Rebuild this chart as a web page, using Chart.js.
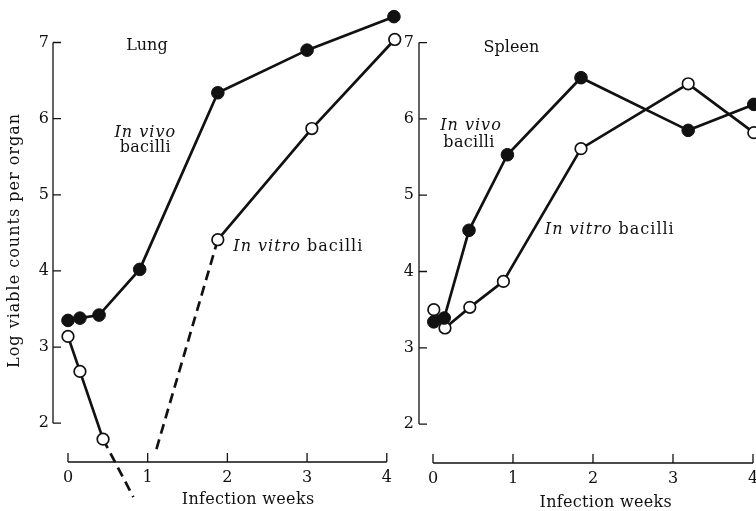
<!DOCTYPE html>
<html>
<head>
<meta charset="utf-8">
<script src="https://cdn.jsdelivr.net/npm/chart.js@4"></script>
<style>
html, body { margin: 0; padding: 0; background: #fff; overflow: hidden; }
body { width: 756px; height: 511px; position: relative; }
canvas { position: absolute; top: 0; }
#lung { left: 0; }
#spleen { left: 380px; }
</style>
</head>
<body>
<canvas id="lung" width="420" height="511"></canvas>
<canvas id="spleen" width="420" height="511"></canvas>
<script>
// values (weeks after infection, log viable counts)
var lungVivoWeeks = [0, 0.15, 0.39, 0.9, 1.88, 3.0, 4.09];
var lungVivoLog = [3.35, 3.38, 3.42, 4.02, 6.34, 6.9, 7.34];
// null marks the break in the dashed extrapolation
var lungVitroWeeks = [0, 0.15, 0.44, 0.82, null, 1.11, 1.88, 3.06, 4.1];
var lungVitroLog = [3.14, 2.68, 1.79, 1.03, null, 1.66, 4.41, 5.87, 7.04];
var spleenVivoWeeks = [0.01, 0.14, 0.45, 0.93, 1.85, 3.19, 4.01];
var spleenVivoLog = [3.34, 3.39, 4.54, 5.53, 6.54, 5.85, 6.19];
var spleenVitroWeeks = [0.01, 0.15, 0.46, 0.88, 1.85, 3.19, 4.01];
var spleenVitroLog = [3.5, 3.26, 3.53, 3.87, 5.61, 6.46, 5.82];
var weekTicks = [0, 1, 2, 3, 4];
var logTicks = [2, 3, 4, 5, 6, 7];

var ink = '#111';
var serif = '"DejaVu Serif", "Liberation Serif", serif';
var noMarker = [3, 5];      // ends of the dashed pieces
var dashedFrom = [2, 5];    // segments drawn dashed

function pts(xs, ys) {
    return xs.map(function(x, i) {
        return { x: x, y: ys[i] };
    });
}

function filled(data) {
    return {
        data: data,
        borderColor: ink,
        borderWidth: 2.7,
        pointRadius: 6.3,
        pointBackgroundColor: ink,
        pointBorderColor: ink,
        pointBorderWidth: 1,
        clip: false
    };
}

function open(data) {
    return {
        data: data,
        borderColor: ink,
        borderWidth: 2.7,
        pointRadius: 5.8,
        pointBackgroundColor: '#fff',
        pointBorderColor: ink,
        pointBorderWidth: 1.7,
        clip: false
    };
}

function drawParts(ctx, parts, cx, cy, spacing) {
    var total = 0;
    ctx.letterSpacing = spacing + 'px';
    parts.forEach(function(p) {
        ctx.font = (p.i ? 'italic ' : '') + '16px ' + serif;
        p.w = ctx.measureText(p.t).width;
        total += p.w;
    });
    var x = cx - total / 2;
    parts.forEach(function(p) {
        ctx.font = (p.i ? 'italic ' : '') + '16px ' + serif;
        ctx.fillText(p.t, x, cy);
        x += p.w;
    });
}

// axis lines only between first and last tick, tick marks pointing inward
var axisFrame = {
    id: 'axisFrame',
    afterDraw: function(chart) {
        var ctx = chart.ctx, xs = chart.scales.x, ys = chart.scales.y;
        var left = chart.chartArea.left, bottom = chart.chartArea.bottom;
        ctx.save();
        ctx.strokeStyle = ink;
        ctx.lineWidth = 1.3;
        ctx.beginPath();
        ctx.moveTo(left, ys.getPixelForValue(logTicks[0]));
        ctx.lineTo(left, ys.getPixelForValue(logTicks[logTicks.length - 1]));
        logTicks.forEach(function(v) {
            var y = ys.getPixelForValue(v);
            ctx.moveTo(left, y);
            ctx.lineTo(left + 8, y);
        });
        ctx.moveTo(xs.getPixelForValue(weekTicks[0]), bottom);
        ctx.lineTo(xs.getPixelForValue(weekTicks[weekTicks.length - 1]), bottom);
        weekTicks.forEach(function(v) {
            var x = xs.getPixelForValue(v);
            ctx.moveTo(x, bottom);
            ctx.lineTo(x, bottom - 9);
        });
        ctx.stroke();
        ctx.restore();
    }
};

var notesPlugin = {
    id: 'notes',
    afterDraw: function(chart, args, opts) {
        var ctx = chart.ctx, xs = chart.scales.x, ys = chart.scales.y;
        ctx.save();
        ctx.fillStyle = ink;
        ctx.textAlign = 'left';
        ctx.textBaseline = 'middle';
        (opts.items || []).forEach(function(n) {
            var px = xs.getPixelForValue(n.x), py = ys.getPixelForValue(n.y);
            ctx.save();
            ctx.translate(px, py);
            if (n.rotate) ctx.rotate(-Math.PI / 2);
            drawParts(ctx, n.parts, 0, 0, n.sp === undefined ? 1 : n.sp);
            ctx.restore();
        });
        ctx.restore();
    }
};

function makeChart(id, datasets, cfg) {
    return new Chart(document.getElementById(id), {
        type: 'line',
        data: { datasets: datasets },
        options: {
            responsive: false,
            animation: false,
            events: [],
            layout: { padding: { top: 4, right: 9, bottom: 0, left: 0 } },
            plugins: {
                legend: { display: false },
                tooltip: { enabled: false },
                notes: { items: cfg.notes }
            },
            scales: {
                x: {
                    type: 'linear',
                    min: cfg.xMin,
                    max: cfg.xMax,
                    border: { display: false },
                    grid: { display: false, drawTicks: false },
                    afterBuildTicks: function(s) {
                        s.ticks = weekTicks.map(function(v) { return { value: v }; });
                    },
                    afterFit: function(s) {
                        s.height = cfg.xHeight;
                        s.paddingLeft = 0;
                        s.paddingRight = 0;
                    },
                    ticks: {
                        padding: 6,
                        maxRotation: 0,
                        autoSkip: false,
                        color: ink,
                        font: { family: serif, size: 16 }
                    }
                },
                y: {
                    min: 1.49,
                    max: 7.46,
                    border: { display: false },
                    grid: { display: false, drawTicks: false },
                    afterBuildTicks: function(s) {
                        s.ticks = logTicks.map(function(v) { return { value: v }; });
                    },
                    afterFit: function(s) {
                        s.width = cfg.yWidth;
                        s.paddingTop = 0;
                        s.paddingBottom = 0;
                    },
                    ticks: {
                        padding: cfg.yPad,
                        color: ink,
                        font: { family: serif, size: 16 }
                    }
                }
            }
        },
        plugins: [axisFrame, notesPlugin]
    });
}

makeChart('lung', [
    filled(pts(lungVivoWeeks, lungVivoLog)),
    Object.assign(open(pts(lungVitroWeeks, lungVitroLog)), {
        pointRadius: function(c) { return noMarker.indexOf(c.dataIndex) >= 0 ? 0 : 5.8; },
        segment: {
            borderDash: function(c) { return dashedFrom.indexOf(c.p0DataIndex) >= 0 ? [10, 6] : undefined; }
        }
    })
], {
    xMin: -0.188, xMax: 4.304, xHeight: 49, yWidth: 53, yPad: 4,
    notes: [
        { parts: [{ t: 'Lung' }], x: 0.99, y: 6.96, sp: 0 },
        { parts: [{ t: 'In vivo', i: true }], x: 0.97, y: 5.82 },
        { parts: [{ t: 'bacilli' }], x: 0.97, y: 5.61, sp: 0.3 },
        { parts: [{ t: 'In vitro', i: true }, { t: ' bacilli' }], x: 2.89, y: 4.31 },
        { parts: [{ t: 'Infection weeks' }], x: 2.26, y: 0.99, sp: 0.3 },
        { parts: [{ t: 'Log viable counts per organ' }], x: -0.665, y: 4.4, rotate: true }
    ]
});

makeChart('spleen', [
    filled(pts(spleenVivoWeeks, spleenVivoLog)),
    open(pts(spleenVitroWeeks, spleenVitroLog))
], {
    xMin: -0.175, xMax: 4.475, xHeight: 48, yWidth: 39, yPad: 5,
    notes: [
        { parts: [{ t: 'Spleen' }], x: 0.98, y: 6.93, sp: 0 },
        { parts: [{ t: 'In vivo', i: true }], x: 0.475, y: 5.91 },
        { parts: [{ t: 'bacilli' }], x: 0.45, y: 5.68, sp: 0.3 },
        { parts: [{ t: 'In vitro', i: true }, { t: ' bacilli' }], x: 2.21, y: 4.54 },
        { parts: [{ t: 'Infection weeks' }], x: 2.16, y: 0.97, sp: 0.3 }
    ]
});
</script>
</body>
</html>
